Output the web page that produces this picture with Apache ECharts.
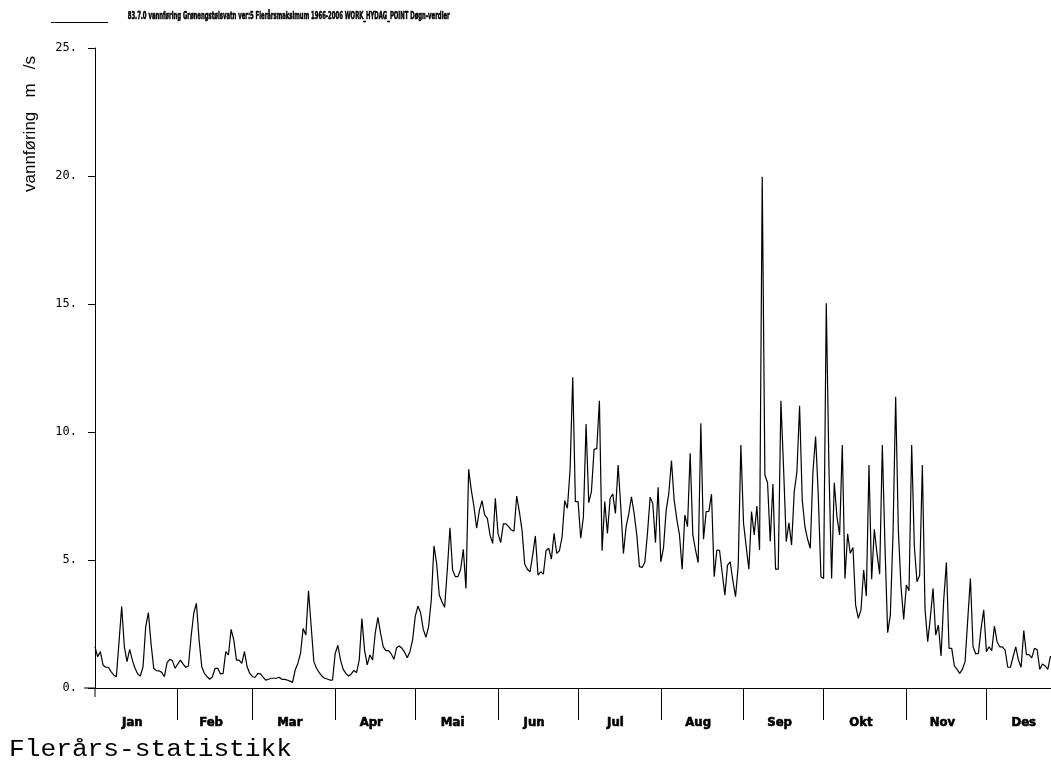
<!DOCTYPE html>
<html>
<head>
<meta charset="utf-8">
<script src="https://cdn.jsdelivr.net/npm/echarts@6/dist/echarts.min.js"></script>
<style>
html,body{margin:0;padding:0;background:#fff;}
#chart{width:1051px;height:762px;}
</style>
</head>
<body>
<div id="chart"></div>
<script>
// ---- data (daily values, m3/s) ----
const monthNames = ['Jan','Feb','Mar','Apr','Mai','Jun','Jul','Aug','Sep','Okt','Nov','Des'];
const monthDays = [31,28,31,30,31,30,31,31,30,31,30,31];
const yTickLabels = ['0.','5.','10.','15.','20.','25.'];

const jan = [1.61,1.22,1.42,0.90,0.81,0.81,0.64,0.51,0.44,1.80,3.18,1.61,1.03,1.51,1.09,0.77,0.55,0.47,0.83,2.39,2.94,1.74,0.77,0.68,0.67,0.61,0.44,0.99,1.12,1.07,0.77];
const feb = [0.93,1.09,0.93,0.81,0.86,2.00,2.92,3.31,1.88,0.83,0.57,0.44,0.34,0.44,0.77,0.77,0.55,0.57,1.42,1.29,2.29,1.88,1.09,1.09,0.96,1.42,0.83,0.57];
const mar = [0.44,0.42,0.57,0.55,0.42,0.31,0.34,0.38,0.38,0.38,0.42,0.34,0.34,0.31,0.27,0.22,0.70,0.96,1.35,2.33,2.07,3.80,2.40,1.03,0.77,0.60,0.47,0.38,0.35,0.31,0.31];
const apr = [1.35,1.67,1.09,0.73,0.57,0.47,0.55,0.68,0.60,1.09,2.71,1.48,0.90,1.29,1.09,2.14,2.76,2.14,1.61,1.46,1.46,1.33,1.12,1.57,1.64,1.55,1.40,1.18,1.42,1.88];
const mai = [2.81,3.20,2.94,2.29,1.98,2.40,3.44,5.55,4.87,3.63,3.37,3.15,4.61,6.26,4.61,4.35,4.35,4.64,5.42,3.89,8.54,7.73,7.08,6.24,6.93,7.32,6.76,6.63,5.98,5.65,7.41];
const jun = [6.04,5.68,6.41,6.41,6.30,6.17,6.13,7.50,6.89,6.17,4.84,4.64,4.54,5.20,5.94,4.41,4.54,4.45,5.36,5.46,5.03,6.04,5.26,5.36,5.89,7.32,7.02,8.52,12.14,7.28];
const jul = [7.28,5.85,6.69,10.31,7.24,7.67,9.32,9.35,11.22,5.36,7.28,6.04,7.41,7.58,6.82,8.71,7.08,5.26,6.30,6.80,7.47,6.82,5.98,4.74,4.71,4.90,6.04,7.45,7.21,5.68,7.84];
const aug = [4.93,5.46,6.93,7.60,8.88,7.34,6.59,5.98,4.64,6.76,6.30,9.17,5.98,5.40,4.90,10.34,5.81,6.89,6.90,7.57,4.35,5.39,5.38,4.50,3.63,4.80,4.93,4.19,3.57,4.77,9.49];
const sep = [6.43,5.52,4.64,6.89,5.98,7.11,5.39,19.97,8.32,8.02,5.72,7.97,4.64,4.64,11.22,8.58,5.72,6.45,5.59,7.67,8.45,11.02,7.34,6.30,5.81,5.46,8.45,9.82,7.54,4.35];
const okt = [4.28,15.03,8.58,4.28,8.02,6.69,5.98,9.49,4.28,6.02,5.26,5.49,3.24,2.72,3.05,4.61,3.59,8.71,4.25,6.20,5.26,4.45,9.49,5.52,2.16,2.85,6.00,11.38,6.17,3.96,2.68];
const nov = [4.02,3.80,9.49,5.52,4.15,4.41,8.71,3.07,1.81,2.76,3.89,2.07,2.46,1.25,3.44,4.90,1.55,1.55,0.86,0.73,0.57,0.73,1.03,2.66,4.28,1.61,1.33,1.35,2.33,3.05];
const des = [1.42,1.61,1.46,2.42,1.81,1.61,1.61,1.48,0.81,0.81,1.22,1.61,1.09,0.81,2.24,1.30,1.30,1.18,1.55,1.50,0.73,0.94,0.86,0.73,1.25];

const values = [].concat(jan, feb, mar, apr, mai, jun, jul, aug, sep, okt, nov, des);
const seriesName = '83.7.0 vannføring Grønengstølsvatn ver:5 Flerårsmaksimum 1966-2006 WORK_HYDAG_POINT Døgn-verdier';

// month boundaries / label anchors derived from month lengths
const monthStarts = [];
let acc = 0;
monthDays.forEach(d => { monthStarts.push(acc); acc += d; });
const tickValues = monthStarts.slice(1);
const labelValues = monthStarts.map((s, i) => s + monthDays[i] / 2 - 1.5);
// the reference plot runs past the right edge of the picture; visible window ends at the last shown day
const visibleEnd = values.length - 1 + 0.2;

function measure(text, font) {
  const c = document.createElement('canvas').getContext('2d');
  c.font = font;
  return c.measureText(text).width;
}

const titleFont = 'bold 11px "Liberation Sans Narrow", "DejaVu Sans Condensed", sans-serif';
const titleScale = 322 / measure(seriesName, titleFont);
const footText = 'Flerårs-statistikk';
const footFont = '23px "Liberation Mono", "DejaVu Sans Mono", monospace';
const footScale = 283 / measure(footText, footFont);
const yNameFont = 'normal 17px "Liberation Sans", Arial, sans-serif';

const chart = echarts.init(document.getElementById('chart'), null, {renderer: 'canvas'});
chart.setOption({
  backgroundColor: '#fff',
  animation: false,
  grid: {left: 95, right: 0, top: 48, bottom: 74},
  legend: {
    left: 46, top: 17, itemWidth: 57, itemHeight: 1, icon: 'rect',
    formatter: () => '', data: [seriesName], selectedMode: false
  },
  xAxis: {
    type: 'value', min: 0, max: visibleEnd,
    axisLine: {show: true, lineStyle: {color: '#000', width: 1}},
    axisTick: {show: true, customValues: tickValues, length: 32, lineStyle: {color: '#000', width: 1}},
    axisLabel: {
      show: true, customValues: labelValues, margin: 28,
      color: '#000', fontFamily: '"Liberation Sans Narrow", "DejaVu Sans Condensed", sans-serif',
      fontWeight: 'bold', fontSize: 13, textBorderColor: '#000', textBorderWidth: 0.6,
      formatter: v => {
        let best = 0;
        labelValues.forEach((lv, i) => { if (Math.abs(lv - v) < Math.abs(labelValues[best] - v)) best = i; });
        return monthNames[best];
      }
    },
    splitLine: {show: false}
  },
  yAxis: {
    type: 'value', min: 0, max: 25, interval: 5,
    axisLine: {show: true, lineStyle: {color: '#000', width: 1}},
    axisTick: {show: true, length: 7, lineStyle: {color: '#000'}},
    axisLabel: {
      margin: 18, color: '#000', fontFamily: '"DejaVu Sans Mono", monospace', fontSize: 12,
      formatter: v => yTickLabels[Math.round(v / 5)]
    },
    splitLine: {show: false}
  },
  series: [{
    name: seriesName,
    type: 'line',
    data: values.map((v, i) => [i, v]),
    symbol: 'none',
    color: '#000',
    lineStyle: {color: '#000', width: 1.2},
    clip: true
  }],
  graphic: [
    {id: 'title', type: 'text', x: 127.7, y: 16, scaleX: titleScale,
     style: {text: seriesName, font: titleFont, fill: '#000', stroke: '#000', lineWidth: 0.6, align: 'left', verticalAlign: 'middle'}},
    {id: 'yname', type: 'text', x: 30, y: 124, rotation: Math.PI / 2,
     style: {text: 'vannføring   m   /s', font: yNameFont, fill: '#000', align: 'center', verticalAlign: 'middle'}},
    {id: 'foot', type: 'text', x: 9, y: 750, scaleX: footScale,
     style: {text: footText, font: footFont, fill: '#000', align: 'left', verticalAlign: 'middle'}}
  ]
});

// small axis extensions at the origin (y axis runs a little below 0, x axis a little left of the y axis)
const o = chart.convertToPixel({gridIndex: 0}, [0, 0]);
chart.setOption({
  graphic: [
    {id: 'yext', type: 'line', shape: {x1: o[0], y1: o[1], x2: o[0], y2: o[1] + 9}, style: {stroke: '#000', lineWidth: 1}},
    {id: 'xext', type: 'line', shape: {x1: o[0] - 11, y1: o[1], x2: o[0], y2: o[1]}, style: {stroke: '#000', lineWidth: 1}}
  ]
});
</script>
</body>
</html>
